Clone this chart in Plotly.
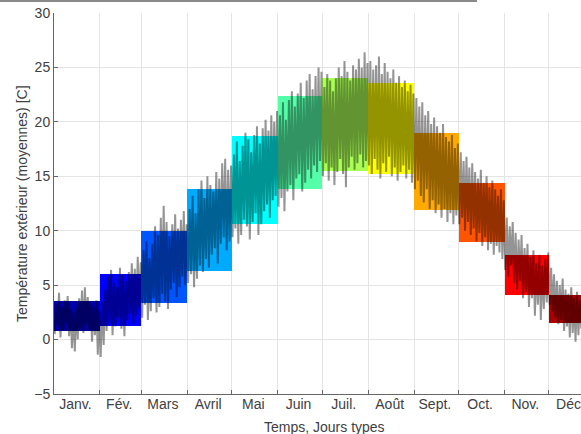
import plotly.graph_objects as go

# Months and their lengths (days)
month_names = ["Janv.", "Fév.", "Mars", "Avril", "Mai", "Juin",
               "Juil.", "Août", "Sept.", "Oct.", "Nov.", "Déc."]
month_days = [31, 28, 31, 30, 31, 30, 31, 31, 30, 31, 30, 31]

# Typical-day temperature range per month (min / max, °C)
typ_min = [0.76, 1.29, 3.40, 6.28, 10.6, 13.8, 15.5, 15.2, 11.9, 9.0, 4.1, 1.56]
typ_max = [3.52, 5.98, 9.94, 13.8, 18.7, 22.4, 24.0, 23.6, 19.0, 14.35, 7.8, 4.1]

# Jet colours, one per month
month_colors = ["#0000aa", "#0000ff", "#0055ff", "#00aaff", "#00ffff", "#55ffaa",
                "#aaff55", "#ffff00", "#ffaa00", "#ff5500", "#ff0000", "#aa0000"]

# Outdoor temperature, successive low / high values through each month
lows = {
    "jan": [0.5, 1.2, 0.2, 0.8, 1.5, 0.3, -0.8, -1.1, 0.0, 1.0, 0.6, 1.4, 0.9, -0.2, 0.4, -1.4],
    "feb": [-1.6, -0.5, 0.8, 1.5, 0.4, 1.2, 2.0, 1.0, 0.3, 1.8, 2.4, 1.5, 2.2, 2.8],
    "mar": [2.0, 3.2, 1.8, 2.6, 3.8, 2.5, 3.0, 4.2, 3.5, 2.8, 4.6, 5.2, 3.9, 4.8, 5.8, 5.0],
    "apr": [5.2, 6.0, 4.8, 5.6, 6.8, 6.2, 7.4, 6.6, 7.8, 8.4, 7.0, 8.8, 9.4, 8.2, 9.0],
    "may": [9.4, 10.2, 8.8, 9.6, 11.0, 10.4, 9.2, 10.8, 11.6, 9.6, 10.6, 11.8, 12.4, 11.2, 12.8, 13.2],
    "jun": [12.2, 13.0, 11.8, 13.6, 14.2, 12.8, 14.8, 15.2, 13.6, 14.4, 15.6, 14.8, 16.0, 15.4, 16.4],
    "jul": [15.0, 16.2, 14.6, 15.8, 14.2, 15.4, 16.6, 15.2, 14.0, 15.8, 16.8, 15.6, 16.2, 17.0, 15.8, 16.4],
    "aug": [16.0, 15.2, 16.6, 15.6, 14.8, 16.2, 15.4, 16.8, 15.0, 15.8, 14.6, 15.4, 16.0, 14.8, 15.6, 14.4],
    "sep": [13.8, 14.6, 13.2, 12.6, 13.8, 12.0, 12.8, 11.6, 12.4, 11.2, 12.0, 10.8, 11.6, 10.6, 11.4],
    "oct": [10.6, 11.2, 10.0, 10.8, 9.6, 10.2, 9.0, 9.8, 8.6, 9.4, 8.2, 8.8, 7.8, 8.6, 8.0, 7.4],
    "nov": [6.4, 5.8, 6.8, 5.2, 4.6, 5.4, 3.8, 4.4, 3.0, 3.8, 2.2, 3.2, 1.8, 2.8, 3.4],
    "dec": [3.2, 2.6, 2.0, 1.4, 1.8, 0.8, 1.2, 0.2, 0.6, -0.2, 0.4, 1.0, 0.5, 1.2, 0.8, 1.4],
}
highs = {
    "jan": [3.2, 4.3, 3.0, 3.6, 4.0, 2.8, 2.5, 2.9, 3.8, 4.5, 4.8, 3.9, 3.3, 3.0, 3.6, 2.7],
    "feb": [3.5, 4.6, 5.8, 6.4, 5.2, 4.8, 6.6, 5.9, 5.4, 6.2, 7.0, 6.5, 7.6, 7.1],
    "mar": [8.2, 9.0, 7.5, 8.8, 10.4, 9.6, 11.2, 12.3, 10.8, 9.5, 10.6, 11.5, 10.2, 11.0, 11.8, 10.6],
    "apr": [12.0, 13.2, 11.6, 13.8, 14.6, 13.0, 15.0, 14.2, 13.6, 15.4, 14.8, 16.2, 16.6, 15.6, 16.0],
    "may": [17.0, 18.2, 16.4, 17.8, 19.0, 18.4, 17.2, 18.8, 19.6, 18.0, 19.4, 20.2, 19.2, 20.6, 20.0, 21.0],
    "jun": [20.6, 21.8, 20.2, 22.0, 22.8, 21.4, 22.6, 23.6, 22.2, 23.8, 24.4, 23.0, 24.2, 25.0, 24.6],
    "jul": [23.2, 24.4, 23.8, 22.8, 24.0, 25.0, 24.2, 25.6, 24.6, 23.8, 25.2, 24.8, 25.8, 25.0, 26.4, 25.4],
    "aug": [25.6, 24.8, 25.2, 26.0, 24.4, 25.4, 24.6, 24.0, 24.8, 23.6, 24.2, 23.2, 23.8, 22.8, 23.4, 22.6],
    "sep": [22.2, 21.4, 21.8, 20.6, 21.0, 19.8, 20.4, 19.6, 19.0, 19.8, 18.6, 18.2, 18.8, 17.6, 18.0],
    "oct": [17.2, 16.4, 16.8, 15.8, 16.2, 15.4, 14.8, 15.6, 14.4, 15.0, 14.0, 14.6, 13.8, 13.2, 13.8, 12.8],
    "nov": [11.2, 10.4, 10.8, 9.8, 9.2, 9.6, 8.4, 8.8, 7.6, 8.2, 7.0, 7.8, 6.8, 7.4, 8.0],
    "dec": [6.6, 6.0, 5.4, 5.0, 5.6, 4.6, 4.2, 4.8, 3.8, 4.4, 3.6, 4.2, 4.8, 4.0, 4.6, 3.8],
}
month_keys = ["jan", "feb", "mar", "apr", "may", "jun",
              "jul", "aug", "sep", "oct", "nov", "dec"]

y_ticks = [-5, 0, 5, 10, 15, 20, 25, 30]

# Month boundaries (day of year)
starts = []
acc = 0
for d in month_days:
    starts.append(acc)
    acc += d
mids = [s + d / 2 for s, d in zip(starts, month_days)]
label_pos = [m - 1 for m in mids]

# Build the temperature trace as alternating low/high samples
t_series, v_series = [], []
for key, s, d in zip(month_keys, starts, month_days):
    lo, hi = lows[key], highs[key]
    n = len(lo)
    step = d / n
    for i in range(n):
        t_series.append(s + (i + 0.25) * step)
        v_series.append(lo[i])
        t_series.append(s + (i + 0.75) * step)
        v_series.append(hi[i])

x_max = 355.6  # view ends partway through December
font_family = "Liberation Sans, Arial, Helvetica, sans-serif"
text_color = "#404040"
axis_color = "#666666"
grid_color = "#e4e4e4"

fig = go.Figure()

fig.add_trace(go.Bar(
    x=mids,
    y=[h - l for h, l in zip(typ_max, typ_min)],
    base=typ_min,
    width=month_days,
    marker=dict(color=month_colors, line=dict(width=0)),
    hoverinfo="skip",
    xaxis="x", yaxis="y",
))

fig.add_trace(go.Scatter(
    x=t_series, y=v_series,
    mode="lines",
    line=dict(color="rgba(0,0,0,0.42)", width=2),
    hoverinfo="skip",
    xaxis="x2", yaxis="y",
))

W, H = 581, 434
ml, mr, mt, mb = 54, 0, 13, 40
pw, ph = W - ml - mr, H - mt - mb

fig.update_layout(
    width=W, height=H,
    margin=dict(l=ml, r=mr, t=mt, b=mb, pad=0, autoexpand=False),
    paper_bgcolor="white", plot_bgcolor="white",
    showlegend=False,
    bargap=0,
    font=dict(family=font_family, size=14, color=text_color),
    xaxis=dict(
        range=[0, x_max], automargin=False,
        tickvals=starts, showticklabels=False,
        ticks="inside", ticklen=4, tickcolor=axis_color,
        showgrid=True, gridcolor=grid_color, gridwidth=1,
        showline=True, linecolor=axis_color, linewidth=1,
        zeroline=False, fixedrange=True,
    ),
    xaxis2=dict(
        range=[0, x_max], overlaying="x", anchor="y", side="bottom",
        automargin=False,
        tickvals=label_pos, ticktext=month_names,
        ticks="", showgrid=False, showline=False, zeroline=False,
        ticklabeloverflow="allow",
        tickfont=dict(size=14, color=text_color),
    ),
    yaxis=dict(
        range=[-5, 30], tickvals=y_ticks, automargin=False,
        ticks="inside", ticklen=4, tickcolor=axis_color,
        showgrid=True, gridcolor=grid_color, gridwidth=1,
        showline=True, linecolor=axis_color, linewidth=1,
        zeroline=False, tickfont=dict(size=14, color=text_color),
    ),
    annotations=[
        dict(text="Température extérieur (moyennes) [C]", textangle=-90,
             xref="paper", yref="paper",
             x=(21.5 - ml) / pw, y=0.5, xanchor="center", yanchor="middle",
             showarrow=False, font=dict(size=14, color=text_color)),
        dict(text="Temps, Jours types",
             xref="paper", yref="paper",
             x=(324 - ml) / pw, y=-(427 - (H - mb)) / ph,
             xanchor="center", yanchor="middle",
             showarrow=False, font=dict(size=14, color=text_color)),
    ],
    shapes=[
        dict(type="line", xref="paper", yref="paper",
             x0=-ml / pw, x1=(477 - ml) / pw,
             y0=1 + (mt - 1) / ph, y1=1 + (mt - 1) / ph,
             line=dict(color="#8a8a8a", width=2)),
    ],
)

fig.write_html("out.html")
